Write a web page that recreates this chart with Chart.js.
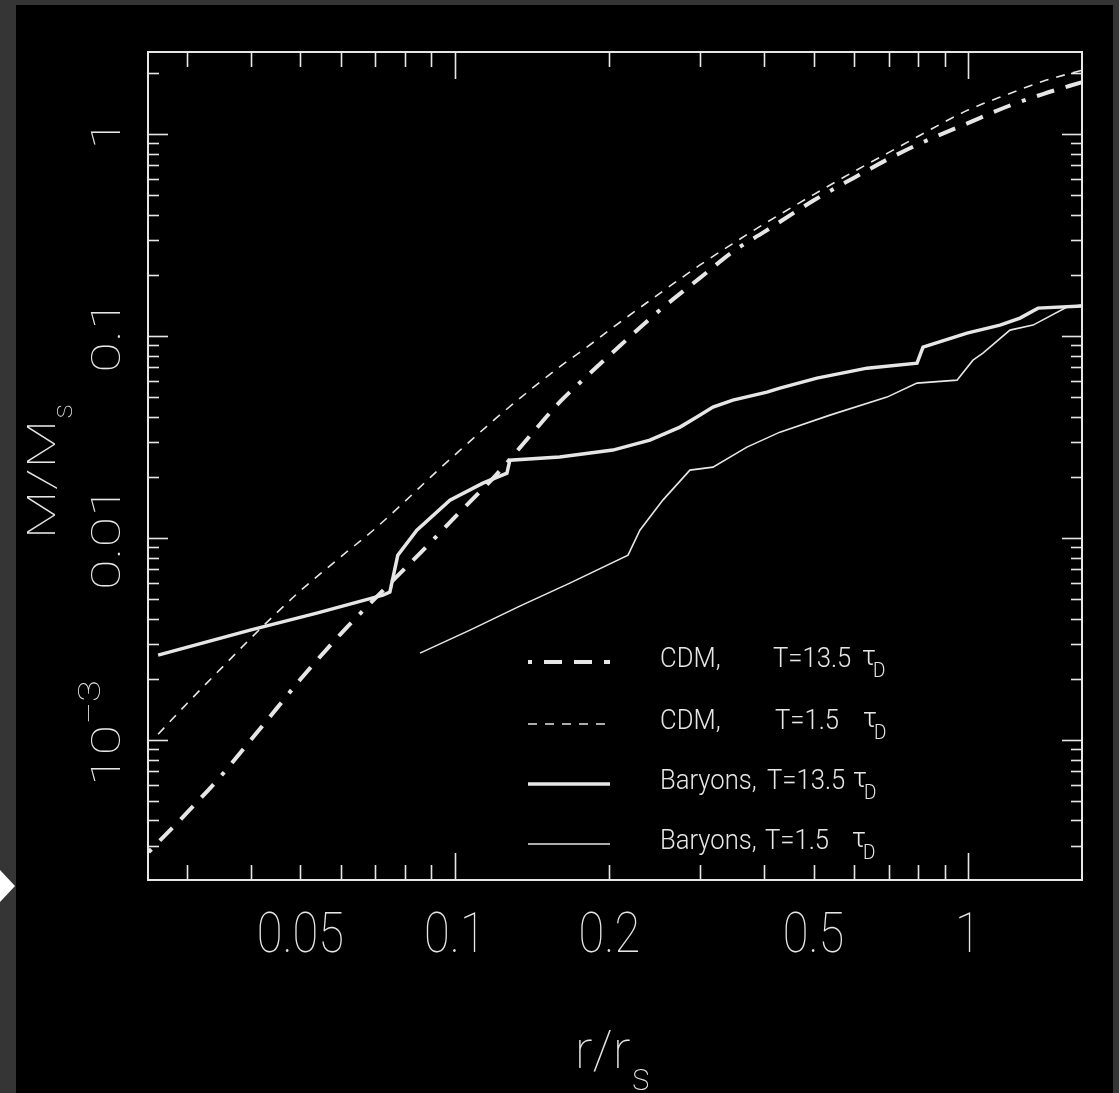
<!DOCTYPE html>
<html>
<head>
<meta charset="utf-8">
<title>Enclosed mass profiles</title>
<script src="https://cdn.jsdelivr.net/npm/chart.js@4.4.1/dist/chart.umd.min.js"></script>
<style>
	html, body { margin: 0; padding: 0; background: #353535; }
	canvas { display: block; }
</style>
</head>
<body>
<canvas id="mass-chart" width="1119" height="1093"></canvas>
<script>
(function () {
	'use strict';

	// enclosed mass M/Ms against radius r/rs
	var rCdmLate = [0.0253, 0.03, 0.035, 0.04, 0.045, 0.05, 0.06, 0.07, 0.08, 0.09, 0.1, 0.12, 0.14, 0.16, 0.18, 0.2, 0.25, 0.3, 0.35, 0.4, 0.5, 0.6, 0.7, 0.8, 1.0, 1.2, 1.4, 1.67];
	var mCdmLate = [2.79e-4, 4.35e-4, 6.64e-4, 1.0e-3, 1.44e-3, 2.0e-3, 3.37e-3, 5.05e-3, 7.10e-3, 9.61e-3, 0.0127, 0.0204, 0.0320, 0.0471, 0.0627, 0.0802, 0.1334, 0.1936, 0.2644, 0.327, 0.469, 0.609, 0.754, 0.890, 1.134, 1.378, 1.579, 1.809];

	var rCdmEarly = [0.0264, 0.03, 0.035, 0.04, 0.045, 0.05, 0.06, 0.07, 0.08, 0.09, 0.1, 0.12, 0.14, 0.16, 0.18, 0.2, 0.25, 0.3, 0.35, 0.4, 0.5, 0.6, 0.7, 0.8, 1.0, 1.2, 1.4, 1.67];
	var mCdmEarly = [1.07e-3, 1.51e-3, 2.26e-3, 3.19e-3, 4.28e-3, 5.49e-3, 8.10e-3, 0.01117, 0.01524, 0.02023, 0.02584, 0.0390, 0.0540, 0.0704, 0.0874, 0.1071, 0.1618, 0.2244, 0.2897, 0.3584, 0.5018, 0.6536, 0.810, 0.976, 1.315, 1.581, 1.827, 2.074];

	var rBarLate = [0.0264, 0.0399, 0.0538, 0.0724, 0.0747, 0.0774, 0.0843, 0.0978, 0.1134, 0.1263, 0.128, 0.160, 0.2032, 0.2399, 0.2746, 0.2962, 0.3184, 0.3482, 0.4057, 0.43, 0.5077, 0.6355, 0.7955, 0.8172, 0.9956, 1.1546, 1.263, 1.3692, 1.668];
	var mBarLate = [2.634e-3, 3.503e-3, 4.254e-3, 5.222e-3, 5.404e-3, 8.234e-3, 0.01095, 0.01542, 0.01872, 0.02098, 0.02432, 0.02518, 0.02727, 0.03055, 0.03544, 0.03972, 0.04453, 0.04822, 0.05282, 0.05528, 0.06193, 0.06942, 0.07349, 0.0882, 0.1035, 0.1134, 0.1228, 0.1376, 0.1408];

	var rBarEarly = [0.0855, 0.107, 0.1338, 0.1675, 0.2175, 0.2294, 0.2543, 0.2871, 0.3184, 0.3708, 0.43, 0.5383, 0.6952, 0.7955, 0.9519, 1.0226, 1.0695, 1.2073, 1.3389, 1.5596, 1.668];
	var mBarEarly = [2.696e-3, 3.503e-3, 4.607e-3, 5.987e-3, 8.234e-3, 0.01095, 0.01542, 0.02171, 0.02246, 0.02822, 0.03347, 0.04063, 0.04989, 0.05851, 0.06055, 0.07605, 0.08237, 0.1071, 0.1134, 0.1392, 0.1424];

	var seriesNames = ['CDM,', 'CDM,', 'Baryons,', 'Baryons,'];
	var seriesTimes = ['T=13.5', 'T=1.5', 'T=13.5', 'T=1.5'];

	var xTickLabels = [0.05, 0.1, 0.2, 0.5, 1];
	var yTickLabels = [1, 0.1, 0.01, 0.001];

	var X_MIN = 0.02523, X_MAX = 1.668;
	var Y_MIN = 2.03e-4, Y_MAX = 2.55;

	var INK = '#e6e6e6';

	function font(size, weight) {
		return (weight || 100) + ' ' + size + "px Roboto, 'Liberation Sans Narrow', sans-serif";
	}

	function points(rs, ms) {
		return rs.map(function (r, i) {
			return { x: r, y: ms[i] };
		});
	}

	function htext(ctx, s, x, y, size, stretch, align, weight) {
		ctx.save();
		ctx.translate(x, y);
		ctx.scale(stretch, 1);
		ctx.font = font(size, weight);
		ctx.textAlign = align || 'left';
		ctx.textBaseline = 'alphabetic';
		ctx.fillText(s, 0, 0);
		ctx.restore();
	}

	// text running bottom to top, x is the baseline
	function vtext(ctx, s, x, y, size, squash, align) {
		ctx.save();
		ctx.translate(x, y);
		ctx.rotate(-Math.PI / 2);
		ctx.scale(1, squash);
		ctx.font = font(size);
		ctx.textAlign = align || 'left';
		ctx.textBaseline = 'alphabetic';
		ctx.fillText(s, 0, 0);
		ctx.restore();
	}

	function width(ctx, s, size) {
		ctx.font = font(size);
		return ctx.measureText(s).width;
	}

	function seg(ctx, x1, y1, x2, y2) {
		ctx.beginPath();
		ctx.moveTo(x1, y1);
		ctx.lineTo(x2, y2);
		ctx.stroke();
	}

	function logTicks(min, max) {
		var out = [];
		for (var e = -5; e <= 1; e++) {
			for (var k = 1; k <= 9; k++) {
				var v = k * Math.pow(10, e);
				if (v > min * 1.001 && v < max * 0.999) {
					out.push({ v: v, major: k === 1 });
				}
			}
		}
		return out;
	}

	var axisDecor = {
		id: 'axisDecor',
		beforeDraw: function (chart) {
			var ctx = chart.ctx;
			ctx.save();
			ctx.fillStyle = '#353535';
			ctx.fillRect(0, 0, chart.width, chart.height);
			ctx.fillStyle = '#000000';
			ctx.fillRect(16, 5, 1097, chart.height - 5);
			ctx.fillStyle = '#ffffff';
			ctx.beginPath();
			ctx.moveTo(0, 870);
			ctx.lineTo(15, 886);
			ctx.lineTo(0, 902);
			ctx.closePath();
			ctx.fill();
			ctx.restore();
		},
		afterDraw: function (chart) {
			var ctx = chart.ctx;
			var a = chart.chartArea;
			var xs = chart.scales.x;
			var ys = chart.scales.y;

			ctx.save();
			ctx.strokeStyle = INK;
			ctx.fillStyle = INK;
			ctx.lineWidth = 2;
			ctx.strokeRect(a.left, a.top, a.right - a.left, a.bottom - a.top);

			// inward ticks on all four sides
			ctx.lineWidth = 1.6;
			logTicks(X_MIN, X_MAX).forEach(function (t) {
				var px = Math.round(xs.getPixelForValue(t.v)) + 0.5;
				var len = t.major ? 27 : 15;
				seg(ctx, px, a.bottom, px, a.bottom - len);
				seg(ctx, px, a.top, px, a.top + len);
			});
			logTicks(Y_MIN, Y_MAX).forEach(function (t) {
				var py = Math.round(ys.getPixelForValue(t.v)) + 0.5;
				var len = t.major ? 20 : 11;
				seg(ctx, a.left, py, a.left + len, py);
				seg(ctx, a.right, py, a.right - len, py);
			});

			// tick labels
			xTickLabels.forEach(function (v) {
				htext(ctx, String(v), xs.getPixelForValue(v), 952, 56, 0.84, 'center');
			});
			yTickLabels.forEach(function (v) {
				var py = ys.getPixelForValue(v);
				if (v === 0.001) {
					var w10 = width(ctx, '10', 56);
					var wSup = width(ctx, '\u22123', 40);
					var start = py - 7 + (w10 + wSup) / 2;
					vtext(ctx, '10', 120, start, 56, 0.73, 'left');
					vtext(ctx, '\u22123', 100, start - w10, 40, 0.8, 'left');
				} else {
					vtext(ctx, String(v), 120, py, 56, 0.73, 'center');
				}
			});

			// axis titles
			var midY = (a.top + a.bottom) / 2;
			var wMM = width(ctx, 'M/M', 57);
			var wS = width(ctx, 's', 30);
			var yStart = midY + (wMM + wS) / 2 + 6;
			vtext(ctx, 'M/M', 55, yStart, 57, 0.67, 'left');
			vtext(ctx, 's', 72, yStart - wMM - 1, 30, 0.95, 'left');

			var midX = (a.left + a.right) / 2;
			var wRR = width(ctx, 'r/r', 53);
			var wS2 = width(ctx, 's', 38);
			var xStart = midX - (wRR + wS2) / 2 - 3;
			htext(ctx, 'r/r', xStart, 1068, 53, 1, 'left');
			htext(ctx, 's', xStart + wRR + 1, 1090, 38, 1, 'left');

			// legend
			var rowsY = [662, 724, 784, 844];
			var tCol = [773, 775, 767, 765];
			var tauCol = [862, 863, 853, 852];
			chart.data.datasets.forEach(function (ds, i) {
				var y = rowsY[i];
				ctx.save();
				ctx.strokeStyle = ds.borderColor;
				ctx.lineWidth = ds.borderWidth;
				ctx.setLineDash(ds.borderDash || []);
				seg(ctx, 528, y, 610, y);
				ctx.restore();
				htext(ctx, seriesNames[i], 660, y + 5, 27, 0.95, 'left', 300);
				htext(ctx, seriesTimes[i], tCol[i], y + 5, 27, 0.95, 'left', 300);
				htext(ctx, '\u03c4', tauCol[i], y + 3, 27, 1, 'left', 300);
				htext(ctx, 'D', tauCol[i] + 11, y + 15, 21, 0.9, 'left', 300);
			});
			ctx.restore();
		},
	};

	function curve(label, rs, ms, lineWidth, dash, smooth) {
		return {
			label: label,
			data: points(rs, ms),
			showLine: true,
			borderColor: INK,
			borderWidth: lineWidth,
			borderDash: dash,
			borderCapStyle: 'butt',
			pointRadius: 0,
			cubicInterpolationMode: smooth ? 'monotone' : 'default',
			tension: 0,
		};
	}

	new Chart(document.getElementById('mass-chart'), {
		type: 'scatter',
		data: {
			datasets: [
				curve('CDM, T=13.5 \u03c4D', rCdmLate, mCdmLate, 4, [4, 12, 18, 12, 18, 12, 18, 12], true),
				curve('CDM, T=1.5 \u03c4D', rCdmEarly, mCdmEarly, 1.6, [9, 8], true),
				curve('Baryons, T=13.5 \u03c4D', rBarLate, mBarLate, 3.5, [], false),
				curve('Baryons, T=1.5 \u03c4D', rBarEarly, mBarEarly, 1.6, [], false),
			],
		},
		options: {
			responsive: false,
			animation: false,
			layout: {
				padding: { left: 148, top: 52, right: 37, bottom: 213 },
			},
			plugins: {
				legend: { display: false },
				tooltip: { enabled: false },
			},
			scales: {
				x: {
					type: 'logarithmic',
					min: X_MIN,
					max: X_MAX,
					display: false,
				},
				y: {
					type: 'logarithmic',
					min: Y_MIN,
					max: Y_MAX,
					display: false,
				},
			},
		},
		plugins: [axisDecor],
	});
})();
</script>
</body>
</html>
